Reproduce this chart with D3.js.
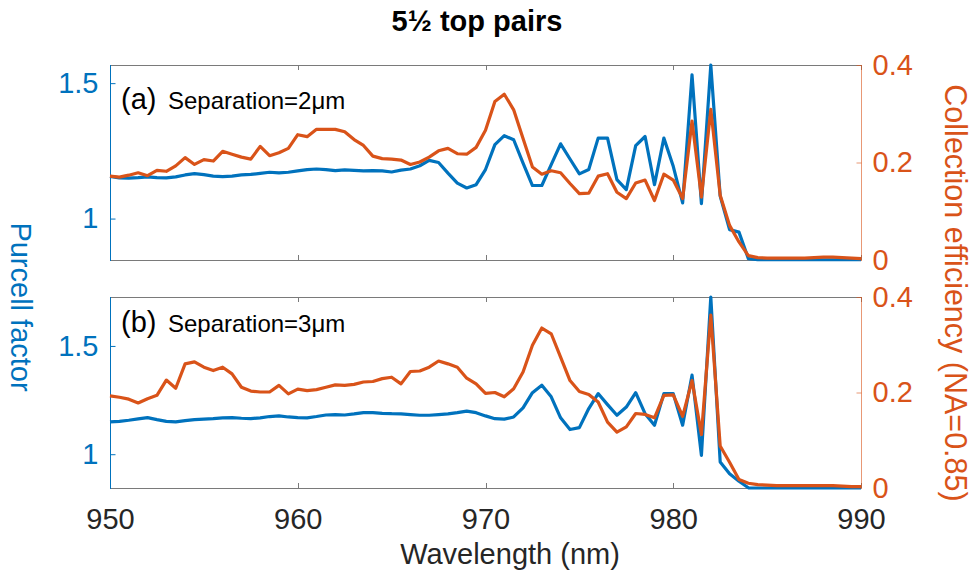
<!DOCTYPE html>
<html>
<head>
<meta charset="utf-8">
<script src="https://cdn.jsdelivr.net/npm/d3@7"></script>
<style>
  body { margin: 0; background: #fff; }
  svg { display: block; font-family: "Liberation Sans", Arial, sans-serif; }
</style>
</head>
<body>
<svg id="chart" width="975" height="577"></svg>
<script>
// Wavelength grid (nm)
const wavelength = [
  950, 950.5, 951, 951.5, 952, 952.5, 953, 953.5, 954, 954.5,
  955, 955.5, 956, 956.5, 957, 957.5, 958, 958.5, 959, 959.5,
  960, 960.5, 961, 961.5, 962, 962.5, 963, 963.5, 964, 964.5,
  965, 965.5, 966, 966.5, 967, 967.5, 968, 968.5, 969, 969.5,
  970, 970.5, 971, 971.5, 972, 972.5, 973, 973.5, 974, 974.5,
  975, 975.5, 976, 976.5, 977, 977.5, 978, 978.5, 979, 979.5,
  980, 980.5, 981, 981.5, 982, 982.5, 983, 983.5, 984, 984.5,
  985, 985.5, 986, 986.5, 987, 987.5, 988, 988.5, 989, 989.5, 990
];

// (a) separation 2 µm
const purcellA = [
  1.156, 1.150, 1.149, 1.151, 1.154, 1.151, 1.150, 1.154, 1.161, 1.166,
  1.162, 1.157, 1.155, 1.157, 1.161, 1.163, 1.167, 1.171, 1.169, 1.171,
  1.176, 1.181, 1.183, 1.181, 1.177, 1.180, 1.178, 1.176, 1.177, 1.176,
  1.172, 1.179, 1.183, 1.195, 1.215, 1.207, 1.168, 1.131, 1.113, 1.125,
  1.181, 1.273, 1.306, 1.291, 1.205, 1.122, 1.122, 1.199, 1.276, 1.220,
  1.165, 1.181, 1.297, 1.297, 1.144, 1.107, 1.269, 1.303, 1.125, 1.297,
  1.193, 1.058, 1.531, 1.055, 1.567, 1.083, 0.959, 0.950, 0.852, 0.848,
  0.848, 0.848, 0.848, 0.848, 0.848, 0.848, 0.848, 0.848, 0.848, 0.848, 0.848
];
const collectionA = [
  0.172, 0.170, 0.174, 0.179, 0.173, 0.184, 0.182, 0.193, 0.210, 0.196,
  0.206, 0.203, 0.223, 0.217, 0.211, 0.207, 0.233, 0.214, 0.220, 0.229,
  0.257, 0.253, 0.268, 0.268, 0.268, 0.263, 0.247, 0.235, 0.213, 0.208,
  0.207, 0.205, 0.196, 0.201, 0.211, 0.224, 0.229, 0.218, 0.217, 0.231,
  0.266, 0.325, 0.340, 0.308, 0.249, 0.191, 0.176, 0.183, 0.179, 0.157,
  0.136, 0.137, 0.172, 0.177, 0.139, 0.126, 0.158, 0.164, 0.122, 0.176,
  0.164, 0.126, 0.285, 0.129, 0.309, 0.133, 0.071, 0.037, 0.009, 0.005,
  0.004, 0.004, 0.004, 0.004, 0.004, 0.005, 0.006, 0.006, 0.005, 0.004, 0.003
];

// (b) separation 3 µm
const purcellB = [
  1.149, 1.152, 1.157, 1.163, 1.169, 1.160, 1.152, 1.149, 1.155, 1.160,
  1.162, 1.164, 1.168, 1.169, 1.166, 1.164, 1.168, 1.174, 1.177, 1.172,
  1.169, 1.168, 1.174, 1.181, 1.183, 1.181, 1.186, 1.192, 1.192, 1.189,
  1.187, 1.186, 1.183, 1.180, 1.180, 1.183, 1.186, 1.192, 1.199, 1.192,
  1.177, 1.164, 1.162, 1.172, 1.214, 1.284, 1.319, 1.265, 1.168, 1.114,
  1.123, 1.211, 1.280, 1.229, 1.180, 1.218, 1.284, 1.187, 1.134, 1.280,
  1.280, 1.134, 1.365, 0.995, 1.726, 0.964, 0.910, 0.875, 0.845, 0.844,
  0.844, 0.844, 0.844, 0.844, 0.844, 0.844, 0.844, 0.844, 0.844, 0.844, 0.844
];
const collectionB = [
  0.193, 0.190, 0.186, 0.178, 0.187, 0.194, 0.226, 0.209, 0.260, 0.264,
  0.253, 0.246, 0.253, 0.239, 0.211, 0.203, 0.201, 0.201, 0.215, 0.197,
  0.207, 0.204, 0.206, 0.211, 0.216, 0.215, 0.217, 0.222, 0.223, 0.229,
  0.232, 0.218, 0.244, 0.245, 0.253, 0.266, 0.260, 0.253, 0.230, 0.218,
  0.198, 0.200, 0.191, 0.208, 0.243, 0.299, 0.335, 0.323, 0.274, 0.225,
  0.202, 0.196, 0.180, 0.138, 0.117, 0.128, 0.156, 0.154, 0.147, 0.194,
  0.195, 0.150, 0.225, 0.112, 0.362, 0.088, 0.054, 0.018, 0.010, 0.007,
  0.006, 0.005, 0.005, 0.005, 0.005, 0.005, 0.005, 0.005, 0.004, 0.003, 0.003
];

// Axis ticks and ranges
const xTicks = [950, 960, 970, 980, 990];
const purcellTicks = [1, 1.5];
const collectionTicks = [0, 0.2, 0.4];
const purcellRanges = [[0.847, 1.567], [0.844, 1.726]];
const collectionRange = [0, 0.4];
const panelTags = ["(a)", "(b)"];
const panelNotes = ["Separation=2\u03bcm", "Separation=3\u03bcm"];

const BLUE = "#0072BD", ORANGE = "#D95319", AXIS = "#262626", FRAME = "#7a7a7a";
const left = 110, right = 861;
const panels = [
  { top: 65, bottom: 260, purcell: purcellA, collection: collectionA },
  { top: 297, bottom: 488, purcell: purcellB, collection: collectionB }
];

const svg = d3.select("#chart");
const x = d3.scaleLinear().domain([950, 990]).range([left, right]);

panels.forEach((p, k) => {
  const yP = d3.scaleLinear().domain(purcellRanges[k]).range([p.bottom, p.top]);
  const yC = d3.scaleLinear().domain(collectionRange).range([p.bottom, p.top]);
  const g = svg.append("g");

  // frame: top/bottom in gray, left blue, right orange
  g.append("line").attr("x1", left).attr("x2", right).attr("y1", p.top + 0.5).attr("y2", p.top + 0.5)
    .attr("stroke", FRAME).attr("stroke-width", 1);
  g.append("line").attr("x1", left).attr("x2", right).attr("y1", p.bottom + 0.5).attr("y2", p.bottom + 0.5)
    .attr("stroke", FRAME).attr("stroke-width", 1);

  // x ticks on both horizontal edges, pointing inward
  g.selectAll(".xt-b").data(xTicks).join("line")
    .attr("x1", d => Math.round(x(d)) + 0.5).attr("x2", d => Math.round(x(d)) + 0.5)
    .attr("y1", p.bottom).attr("y2", p.bottom - 5).attr("stroke", FRAME);
  g.selectAll(".xt-t").data(xTicks).join("line")
    .attr("x1", d => Math.round(x(d)) + 0.5).attr("x2", d => Math.round(x(d)) + 0.5)
    .attr("y1", p.top).attr("y2", p.top + 5).attr("stroke", FRAME);

  // left (Purcell) axis
  const la = g.append("g").attr("transform", `translate(${left + 0.5},0)`)
    .call(d3.axisLeft(yP).tickValues(purcellTicks).tickSize(-5).tickSizeOuter(0)
      .tickPadding(12).tickFormat(d => String(d)));
  la.select(".domain").remove();
  la.selectAll("line").attr("stroke", BLUE);
  la.selectAll("text").attr("fill", BLUE).attr("font-size", 29).attr("font-family", "Liberation Sans, Arial, sans-serif");
  g.append("line").attr("x1", left + 0.5).attr("x2", left + 0.5).attr("y1", p.top).attr("y2", p.bottom + 1)
    .attr("stroke", BLUE);

  // right (collection efficiency) axis
  const ra = g.append("g").attr("transform", `translate(${right + 0.5},0)`)
    .call(d3.axisRight(yC).tickValues(collectionTicks).tickSize(-5).tickSizeOuter(0)
      .tickPadding(11).tickFormat(d => String(d)));
  ra.select(".domain").remove();
  ra.selectAll("line").attr("stroke", ORANGE).attr("stroke-opacity", 0.6);
  ra.selectAll("text").attr("fill", ORANGE).attr("font-size", 29).attr("font-family", "Liberation Sans, Arial, sans-serif");
  g.append("line").attr("x1", right + 0.5).attr("x2", right + 0.5).attr("y1", p.top).attr("y2", p.bottom + 1)
    .attr("stroke", ORANGE).attr("stroke-opacity", 0.6);

  // bottom panel carries the x tick labels
  if (k === panels.length - 1) {
    const xa = g.append("g").attr("transform", `translate(0,${p.bottom})`)
      .call(d3.axisBottom(x).tickValues(xTicks).tickSize(0).tickPadding(20).tickFormat(d => String(d)));
    xa.select(".domain").remove();
    xa.selectAll("text").attr("fill", AXIS).attr("font-size", 29).attr("font-family", "Liberation Sans, Arial, sans-serif");
  }

  // data lines
  const linePurcell = d3.line().x((d, i) => x(wavelength[i])).y(d => yP(d));
  const lineCollection = d3.line().x((d, i) => x(wavelength[i])).y(d => yC(d));
  g.append("path").datum(p.purcell).attr("d", linePurcell)
    .attr("fill", "none").attr("stroke", BLUE).attr("stroke-width", 3.2)
    .attr("stroke-linejoin", "round");
  g.append("path").datum(p.collection).attr("d", lineCollection)
    .attr("fill", "none").attr("stroke", ORANGE).attr("stroke-width", 3.2)
    .attr("stroke-linejoin", "round");

  // panel annotation
  const base = p.top + 43.5 + (k === 1 ? -8.5 : 0);
  g.append("text").attr("x", 121).attr("y", base).attr("font-size", 29).attr("fill", "#000")
    .text(panelTags[k]);
  g.append("text").attr("x", 168).attr("y", base).attr("font-size", 24).attr("fill", "#000")
    .text(panelNotes[k]);
});

// title and axis titles
svg.append("text").attr("x", 477).attr("y", 31).attr("text-anchor", "middle")
  .attr("font-size", 29).attr("font-weight", "bold").attr("fill", "#000")
  .text("5\u00bd top pairs");
svg.append("text").attr("x", 510).attr("y", 564).attr("text-anchor", "middle")
  .attr("font-size", 29).attr("fill", AXIS).text("Wavelength (nm)");
svg.append("text").attr("transform", "translate(11,307) rotate(90)").attr("text-anchor", "middle")
  .attr("font-size", 29).attr("fill", BLUE).text("Purcell factor");
svg.append("text").attr("transform", "translate(945,293) rotate(90)").attr("text-anchor", "middle")
  .attr("font-size", 30.5).attr("fill", ORANGE).text("Collection efficiency (NA=0.85)");
</script>
</body>
</html>
